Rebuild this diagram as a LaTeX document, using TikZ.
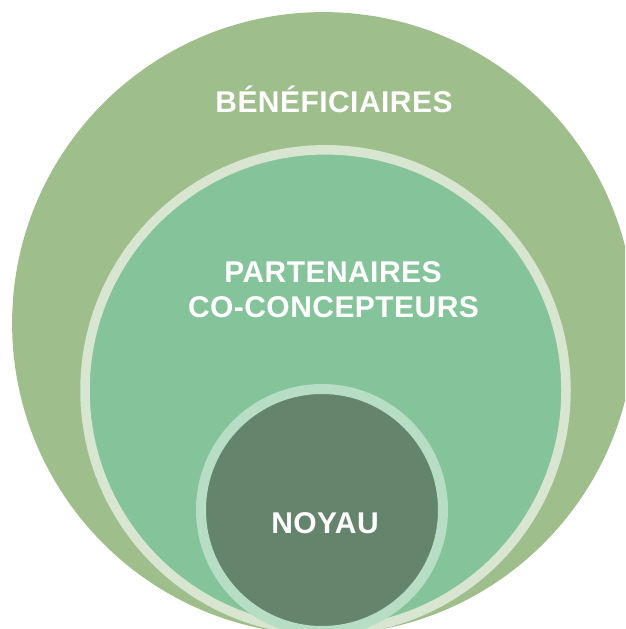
\documentclass[tikz,border=0pt]{standalone}
\usepackage{fontspec}
\setmainfont{Liberation Sans}
\newfontfamily\labelfont[LetterSpace=1.5]{Liberation Sans}
\definecolor{outerfill}{HTML}{9EBE8B}
\definecolor{midfill}{HTML}{85C39B}
\definecolor{midring}{HTML}{D7E5D1}
\definecolor{innerfill}{HTML}{65846C}
\definecolor{innerring}{HTML}{B7DDC4}
\tikzset{
  disc/.style={circle, inner sep=0pt, outer sep=0pt},
  label text/.style={text=white, font=\labelfont\fontsize{30}{36}\selectfont\bfseries, anchor=base, inner sep=0pt}
}
\begin{document}
\begin{tikzpicture}[x=1pt,y=-1pt]
\useasboundingbox (0,0) rectangle (625,629);
\clip (0,0) rectangle (625,629);
\node[disc, fill=outerfill, minimum size=622.6pt] (outer) at (323.4,323.4) {};
\node[disc, fill=midfill, draw=midring, line width=9.5pt, minimum size=481pt] (middle) at (325.5,390.3) {};
\node[disc, fill=innerfill, draw=innerring, line width=10pt, minimum size=242pt] (inner) at (322,510) {};
\node[label text] (benef) at (334,112) {BÉNÉFICIAIRES};
\node[label text] (part1) at (333,282) {PARTENAIRES};
\node[label text] (part2) at (333.5,317.5) {CO-CONCEPTEURS};
\node[label text] (noyau) at (325,533) {NOYAU};
\end{tikzpicture}
\end{document}
